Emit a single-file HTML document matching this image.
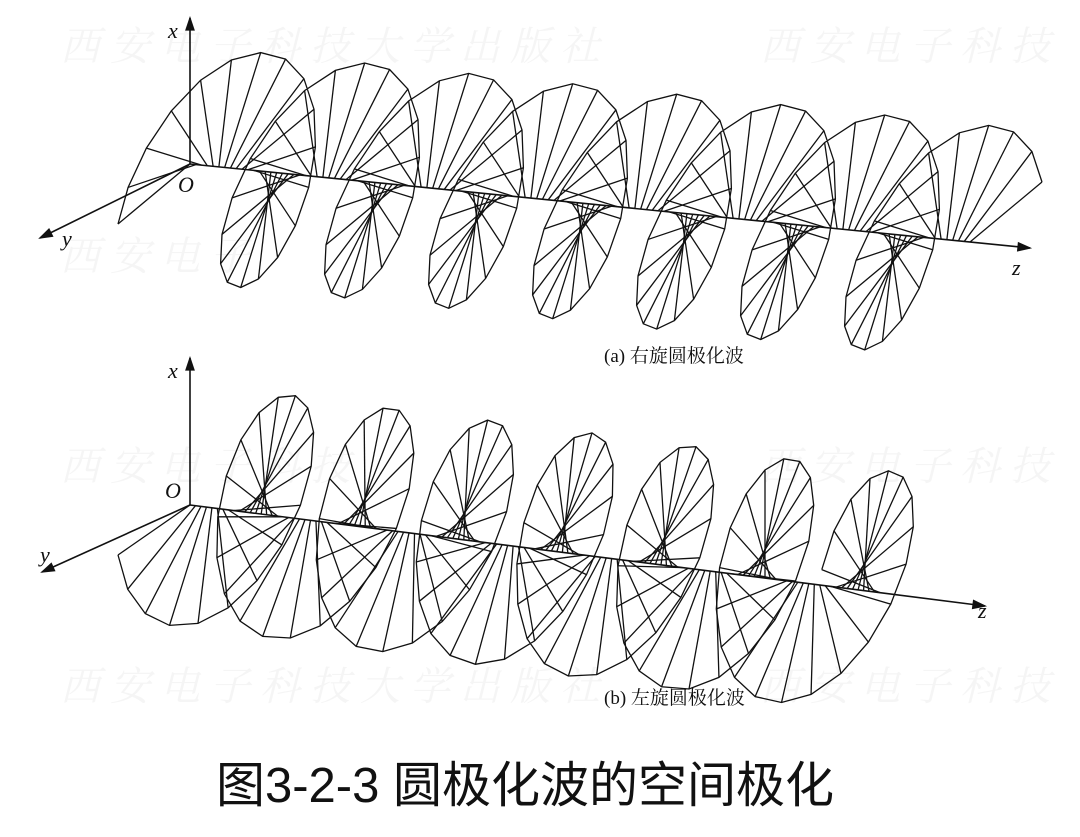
<!DOCTYPE html>
<html><head><meta charset="utf-8"><style>
html,body{margin:0;padding:0;background:#fff;}
svg{display:block;}
</style></head><body>
<svg id="s" width="1080" height="837" viewBox="0 0 1080 837" xmlns="http://www.w3.org/2000/svg">
<g font-family="'Liberation Serif','Noto Serif CJK SC',serif" fill="#f5f5f5" font-size="40" font-style="italic">
<text x="60" y="60">西 安 电 子 科 技 大 学 出 版 社</text>
<text x="760" y="60">西 安 电 子 科 技</text>
<text x="60" y="270">西 安 电 子</text>
<text x="60" y="480">西 安 电 子 科 技</text>
<text x="760" y="480">西 安 电 子 科 技</text>
<text x="60" y="700">西 安 电 子 科 技 大 学 出 版 社</text>
<text x="760" y="700">西 安 电 子 科 技</text>
</g>
<g id="g" stroke="#111" stroke-width="1.3" fill="none"></g>
<g font-family="'Liberation Serif',serif" font-style="italic" font-size="22" fill="#111">
<text x="168" y="38">x</text><text x="178" y="192">O</text><text x="62" y="246">y</text><text x="1012" y="275">z</text>
<text x="168" y="378">x</text><text x="165" y="498">O</text><text x="40" y="562">y</text><text x="978" y="618">z</text>
</g>
<g font-family="'Liberation Serif','Noto Serif CJK SC',serif" font-size="19" fill="#111">
<text x="604" y="362">(a) 右旋圆极化波</text>
<text x="604" y="704">(b) 左旋圆极化波</text>
</g>
<text x="525" y="802" text-anchor="middle" font-family="'Liberation Sans','Noto Sans CJK SC',sans-serif" font-size="49" fill="#111">图3-2-3  圆极化波的空间极化</text>
</svg>
<script>
var g=document.getElementById('g');
function L(x1,y1,x2,y2,w){var e=document.createElementNS('http://www.w3.org/2000/svg','line');e.setAttribute('x1',x1);e.setAttribute('y1',y1);e.setAttribute('x2',x2);e.setAttribute('y2',y2);if(w)e.setAttribute('stroke-width',w);g.appendChild(e);}
function P(pts){var e=document.createElementNS('http://www.w3.org/2000/svg','polyline');e.setAttribute('points',pts.map(p=>p.join(',')).join(' '));g.appendChild(e);}
function arrow(x1,y1,x2,y2){L(x1,y1,x2,y2,1.6);var a=Math.atan2(y2-y1,x2-x1),s=12,w=4;var e=document.createElementNS('http://www.w3.org/2000/svg','polygon');
e.setAttribute('points',[x2,y2,x2-s*Math.cos(a)+w*Math.sin(a),y2-s*Math.sin(a)-w*Math.cos(a),x2-s*Math.cos(a)-w*Math.sin(a),y2-s*Math.sin(a)+w*Math.cos(a)].join(','));e.setAttribute('fill','#111');g.appendChild(e);}
function helix(ox,oy,slope,per,len,X,Y,sign,n){
 var tips=[];
 for(var i=0;i<=n;i++){var z=len*i/n;var a=Math.PI/2+sign*2*Math.PI*z/per;
  var px=ox+z,py=oy+slope*z;var tx=px+Math.cos(a)*X[0]+Math.sin(a)*Y[0],ty=py+Math.cos(a)*X[1]+Math.sin(a)*Y[1];
  L(px,py,tx,ty);tips.push([tx.toFixed(1),ty.toFixed(1)]);}
 P(tips);
}
// (a)
arrow(190,164,190,18);arrow(190,164,40,238);arrow(190,164,1030,248);
helix(190,164,0.1,104,780,[0,-98],[-72,60],-1,135);
// (b)
arrow(190,505,190,358);arrow(190,505,42,572);arrow(190,505,985,606);
helix(190,505,0.127,100,690,[0,-108],[-72,50],1,126);
</script>
</body></html>
